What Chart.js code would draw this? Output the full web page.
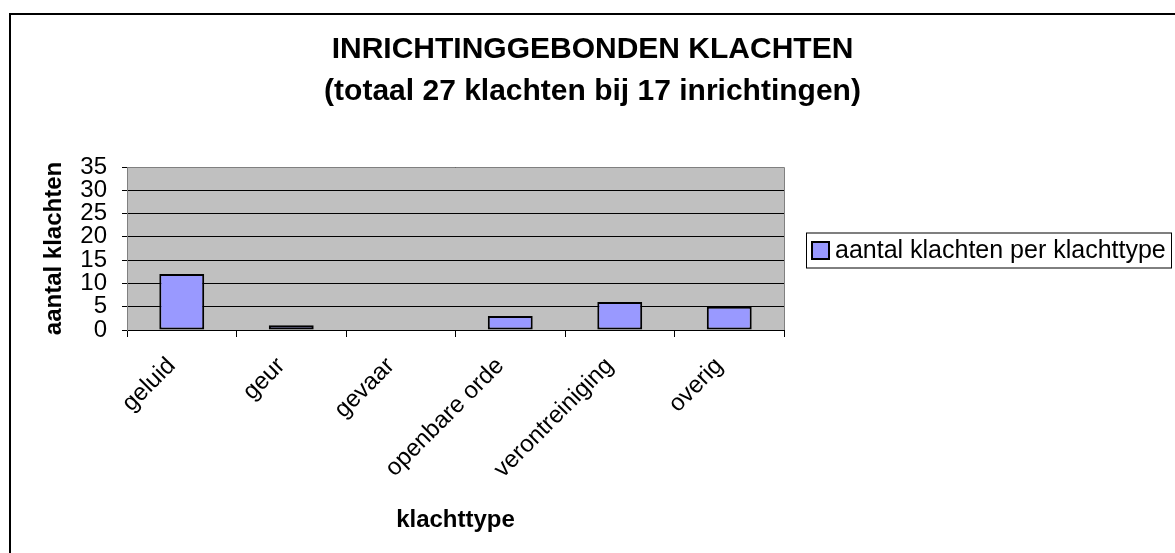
<!DOCTYPE html>
<html>
<head>
<meta charset="utf-8">
<script src="https://cdn.jsdelivr.net/npm/chart.js@4/dist/chart.umd.min.js"></script>
<style>
  body { margin: 0; background: #fff; }
  #wrap { width: 1175px; height: 553px; }
</style>
</head>
<body>
<div id="wrap"><canvas id="klachtenChart"></canvas></div>
<script>
// data
const categories = ['geluid', 'geur', 'gevaar', 'openbare orde', 'verontreiniging', 'overig'];
const klachten = [12, 1, 0, 3, 6, 5];
const yTicks = [0, 5, 10, 15, 20, 25, 30, 35];

const FONT = "'Liberation Sans', Arial, sans-serif";

// gray plot area, outer frame and boxed legend
const excelLook = {
  id: 'excelLook',
  beforeDraw(chart) {
    const { ctx, chartArea: a } = chart;
    ctx.save();
    ctx.fillStyle = '#fff';
    ctx.fillRect(0, 0, chart.width, chart.height);
    ctx.fillStyle = '#C0C0C0';
    ctx.fillRect(a.left, a.top, a.right - a.left, a.bottom - a.top);
    ctx.restore();
  },
  afterDraw(chart) {
    const { ctx, chartArea: a } = chart;
    ctx.save();
    // plot border top + right
    ctx.strokeStyle = '#808080';
    ctx.lineWidth = 1;
    ctx.beginPath();
    ctx.moveTo(a.left, a.top + 0.5);
    ctx.lineTo(a.right + 0.5, a.top + 0.5);
    ctx.lineTo(a.right + 0.5, a.bottom);
    ctx.stroke();
    // outer frame (left + top only visible)
    ctx.strokeStyle = '#000';
    ctx.lineWidth = 2;
    ctx.beginPath();
    ctx.moveTo(10, chart.height);
    ctx.lineTo(10, 14);
    ctx.lineTo(chart.width, 14);
    ctx.stroke();

    // legend
    const ds = chart.data.datasets[0];
    const midY = (a.top + a.bottom) / 2 + 2;
    const boxL = a.right + 22;
    ctx.lineWidth = 1;
    ctx.strokeStyle = '#000';
    ctx.strokeRect(boxL + 0.5, midY - 17.5, 1171 - boxL, 35);
    ctx.fillStyle = ds.backgroundColor;
    ctx.fillRect(boxL + 6, midY - 8.5, 17, 17);
    ctx.lineWidth = 2;
    ctx.strokeRect(boxL + 6, midY - 8.5, 17, 17);
    ctx.fillStyle = '#000';
    ctx.font = '25px ' + FONT;
    ctx.textBaseline = 'middle';
    ctx.textAlign = 'left';
    ctx.fillText(ds.label, boxL + 29, midY + 1);
    ctx.restore();
  }
};

const ctx = document.getElementById('klachtenChart').getContext('2d');

const klachtenChart = new Chart(ctx, {
  type: 'bar',
  data: {
    labels: categories,
    datasets: [
      {
        label: 'aantal klachten per klachttype',
        data: klachten,
        backgroundColor: '#9999FF',
        borderColor: '#000',
        borderWidth: 2,
        borderSkipped: false,
        barPercentage: 0.41,
        categoryPercentage: 1,
      },
    ],
  },
  options: {
    responsive: true,
    maintainAspectRatio: false,
    animation: false,
    layout: {
      padding: { left: 10, right: 0, top: 14, bottom: 0 },
    },
    plugins: {
      tooltip: { enabled: false },
      legend: { display: false },
      title: {
        display: true,
        text: ['INRICHTINGGEBONDEN KLACHTEN', '(totaal 27 klachten bij 17 inrichtingen)'],
        color: '#000',
        font: { family: FONT, size: 30, weight: 'bold', lineHeight: 1.4 },
        padding: { top: 15, bottom: 54 },
      },
    },
    scales: {
      x: {
        offset: true,
        grid: {
          display: true,
          drawOnChartArea: false,
          drawTicks: true,
          tickLength: 7,
          color: '#000',
        },
        border: { color: '#000', width: 1 },
        ticks: {
          color: '#000',
          font: { family: FONT, size: 24 },
          autoSkip: false,
          maxRotation: 45,
          minRotation: 45,
          labelOffset: -10,
          padding: 15,
        },
        title: {
          display: true,
          text: 'klachttype',
          color: '#000',
          font: { family: FONT, size: 24, weight: 'bold' },
          padding: { top: 4, bottom: 18 },
        },
        afterFit: (scale) => { scale.height = 223; },
      },
      y: {
        min: 0,
        max: 35,
        afterBuildTicks: (scale) => { scale.ticks = yTicks.map(v => ({ value: v })); },
        grid: {
          color: '#000',
          lineWidth: 1,
          tickLength: 5,
        },
        border: { color: '#808080', width: 1 },
        ticks: {
          color: '#000',
          font: { family: FONT, size: 24 },
          autoSkip: false,
          padding: 15,
          // Excel left-aligns the tick numbers: pad single digits
          callback: (v) => (v < 10 ? '  ' + v : String(v)),
        },
        title: {
          display: true,
          text: 'aantal klachten',
          color: '#000',
          font: { family: FONT, size: 24, weight: 'bold' },
          padding: { top: 30, bottom: 0 },
        },
        afterFit: (scale) => { scale.width = 117; },
      },
      // empty axis that only reserves room for the legend on the right
      legendSpace: {
        type: 'linear',
        position: 'right',
        display: true,
        grid: { display: false },
        border: { display: false },
        ticks: { display: false },
        afterFit: (scale) => { scale.width = 391; },
      },
    },
  },
  plugins: [excelLook],
});
</script>
</body>
</html>
